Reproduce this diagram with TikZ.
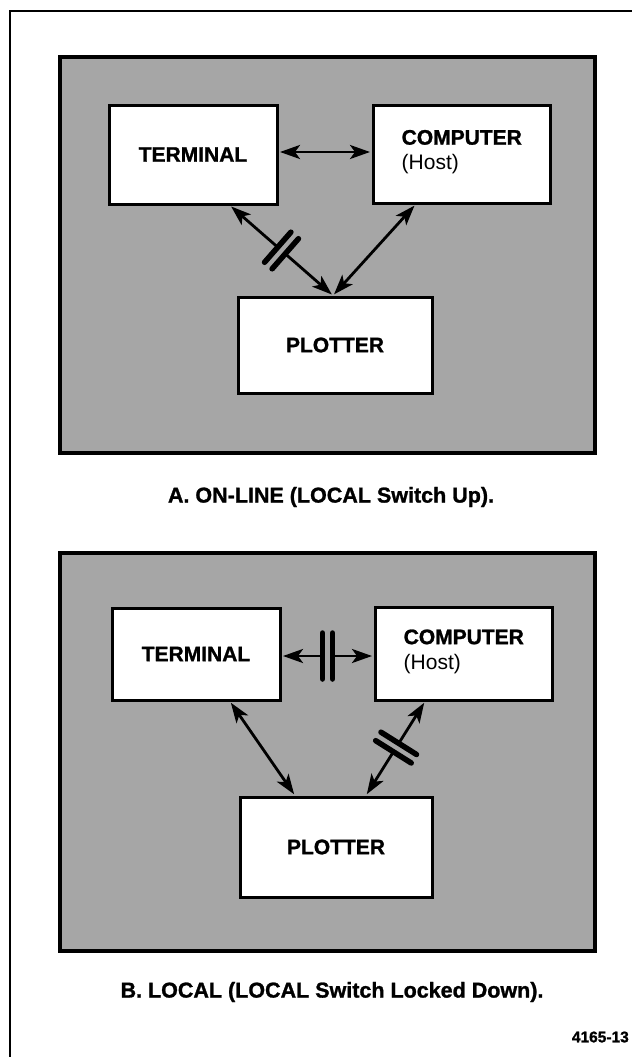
\documentclass[tikz,border=0pt]{standalone}
\usepackage{fontspec}
\setmainfont{Liberation Sans}[BoldFeatures={FakeBold=1.2}]
\usetikzlibrary{arrows.meta,calc}
\definecolor{halftone}{RGB}{166,166,166}
\tikzset{
  panelbox/.style={draw=black, line width=3.4pt, fill=halftone, inner sep=0pt, rectangle},
  unitbox/.style={draw=black, line width=3pt, fill=white, inner sep=0pt, rectangle,
                  font=\fontsize{21}{25}\selectfont\bfseries},
  unittext/.style={inner sep=0pt, align=left, font=\fontsize{21}{25}\selectfont},
  link/.style={line width=2.8pt, {Stealth[length=20pt,width=14pt,inset=5pt]}-{Stealth[length=20pt,width=14pt,inset=5pt]},
               shorten <=1.5pt, shorten >=1.5pt},
  barmark/.style={line width=5.5pt, line cap=round},
  captiontext/.style={inner sep=0pt, font=\fontsize{21.5}{25}\selectfont\bfseries},
  figid/.style={inner sep=0pt, font=\fontsize{15.5}{18}\selectfont\bfseries},
  frameline/.style={line width=2pt},
}
\newcommand\brkpair[5]{%
  \coordinate (#1m) at ($(#2)!#4!(#3)$);
  \coordinate (#1a) at ($(#1m)!5pt!(#3)$);
  \coordinate (#1b) at ($(#1m)!-5pt!(#3)$);
  \draw[halftone, line width=4pt] (#1a) -- (#1b);
  \draw[barmark] ($(#1a)!#5!90:(#3)$) -- ($(#1a)!#5!-90:(#3)$);
  \draw[barmark] ($(#1b)!#5!90:(#3)$) -- ($(#1b)!#5!-90:(#3)$);
}
\begin{document}
\begin{tikzpicture}[x=1pt, y=-1pt]
\useasboundingbox (0,0) rectangle (632,1057);
% outer frame
\coordinate (fb) at (10,1057);
\coordinate (fc) at (10,11);
\coordinate (fr) at (632,11);
\draw[frameline] (fb) -- (fc) -- (fr);

% ---------- Panel A ----------
\node[panelbox, minimum width=535pt, minimum height=396pt] (pA) at (327.5,255) {};
\node[unitbox, minimum width=168pt, minimum height=99pt] (TA) at (193,154.5) {TERMINAL};
\node[unitbox, minimum width=177pt, minimum height=98pt] (CA) at (461.5,154) {};
\node[unittext, anchor=west] (CAt) at ([xshift=30pt,yshift=2pt]CA.west) {\textbf{COMPUTER}\\(Host)};
\node[unitbox, minimum width=194pt, minimum height=96pt] (PA) at (335,345) {PLOTTER};

\coordinate (aTs) at ([xshift=37pt]TA.south);
\coordinate (aCs) at ([xshift=-46pt]CA.south);
\coordinate (aPn) at ([xshift=-2pt]PA.north);
\draw[link] (TA.east |- 0,152) -- (CA.west |- 0,152);
\draw[link] (aTs) -- (aPn);
\draw[link] (aCs) -- (aPn);
\brkpair{kA}{aTs}{aPn}{0.5}{20pt}

\node[captiontext] (capA) at (331,497) {A. ON-LINE (LOCAL Switch Up).};

% ---------- Panel B ----------
\node[panelbox, minimum width=535pt, minimum height=398pt] (pB) at (327.5,752) {};
\node[unitbox, minimum width=168pt, minimum height=92pt] (TB) at (196,654) {TERMINAL};
\node[unitbox, minimum width=177pt, minimum height=93pt] (CB) at (463.5,653.5) {};
\node[unittext, anchor=west] (CBt) at ([xshift=30pt,yshift=2pt]CB.west) {\textbf{COMPUTER}\\(Host)};
\node[unitbox, minimum width=192pt, minimum height=100pt] (PB) at (336,847) {PLOTTER};

\coordinate (bTe) at (TB.east |- 0,656);
\coordinate (bCw) at (CB.west |- 0,656);
\coordinate (bTs) at ([xshift=34pt]TB.south);
\coordinate (bCs) at ([xshift=-38.5pt]CB.south);
\coordinate (bPl) at ([xshift=-41pt]PB.north);
\coordinate (bPr) at ([xshift=30pt]PB.north);
\draw[link] (bTe) -- (bCw);
\draw[link] (bTs) -- (bPl);
\draw[link] (bCs) -- (bPr);
\brkpair{kB}{bTe}{bCw}{0.5}{23pt}
\brkpair{kC}{bCs}{bPr}{0.49}{21pt}

\node[captiontext] (capB) at (332,992) {B. LOCAL (LOCAL Switch Locked Down).};
\node[figid, anchor=east] (fid) at (629,1037) {4165-13};
\end{tikzpicture}
\end{document}
